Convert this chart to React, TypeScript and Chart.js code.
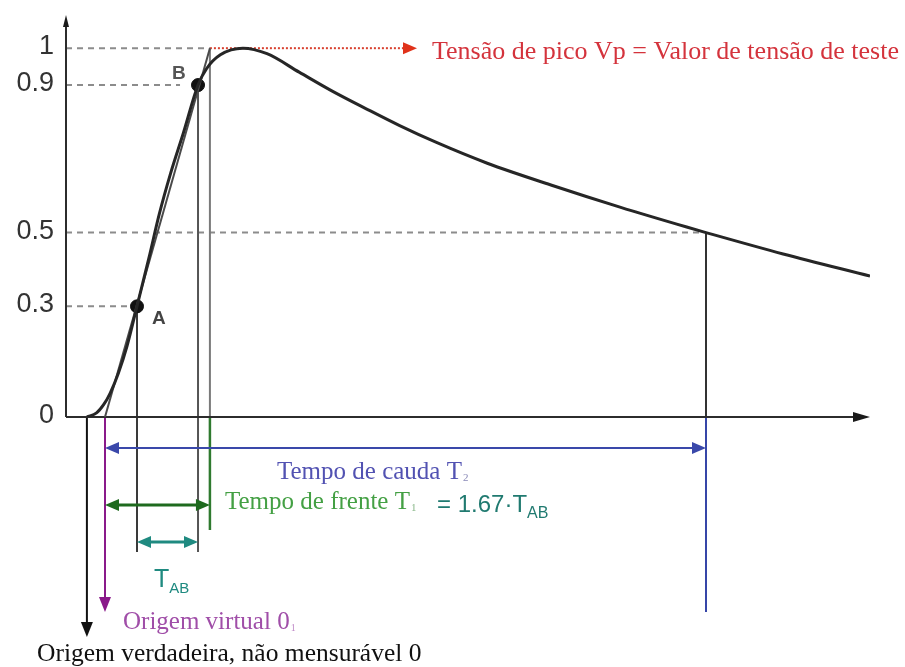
import { useEffect, useRef } from 'react';
import { Chart, registerables } from 'chart.js';

Chart.register(...registerables);

// ---- Data (time in arbitrary units, voltage normalised to Vp) ----
const curveTime = [2.6, 3.8, 4.7, 5.5, 6.5, 7.6, 8.83, 10.3, 11.6, 13.0, 14.6, 16.42, 17.5, 19.2, 22.0, 25.0, 29.0, 33.0, 37.4, 41.5, 46.0, 52.4, 60.6, 68.9, 77.2, 79.6, 89.2, 100];
const curveVoltage = [0, 0.011, 0.034, 0.065, 0.118, 0.193, 0.30, 0.43, 0.55, 0.66, 0.77, 0.90, 0.945, 0.982, 1.0, 0.985, 0.935, 0.885, 0.835, 0.79, 0.745, 0.688, 0.627, 0.569, 0.515, 0.50, 0.442, 0.382];

const yTickValues = [0, 0.3, 0.5, 0.9, 1];
const yTickLabels = ['0', '0.3', '0.5', '0.9', '1'];

const trueOrigin = 2.6;
const virtualOrigin = 4.85;
const timeA = 8.83;
const timeB = 16.42;
const frontTime = 17.9;
const tailTime = 79.6;
const levelA = 0.3;
const levelB = 0.9;
const levelTail = 0.5;
const peakLevel = 1;

const pointLabels = ['A', 'B'];

const SERIF = '"Liberation Serif", "Times New Roman", serif';
const SANS = '"Liberation Sans", Arial, sans-serif';

function line(ctx: CanvasRenderingContext2D, x1: number, y1: number, x2: number, y2: number) {
  ctx.beginPath();
  ctx.moveTo(x1, y1);
  ctx.lineTo(x2, y2);
  ctx.stroke();
}

function arrowHead(ctx: CanvasRenderingContext2D, tipX: number, tipY: number, dx: number, dy: number, len: number, halfW: number, color: string) {
  const bx = tipX - dx * len;
  const by = tipY - dy * len;
  const nx = -dy;
  const ny = dx;
  ctx.save();
  ctx.setLineDash([]);
  ctx.fillStyle = color;
  ctx.beginPath();
  ctx.moveTo(tipX, tipY);
  ctx.lineTo(bx + nx * halfW, by + ny * halfW);
  ctx.lineTo(bx - nx * halfW, by - ny * halfW);
  ctx.closePath();
  ctx.fill();
  ctx.restore();
}

function doubleArrow(ctx: CanvasRenderingContext2D, x1: number, x2: number, y: number, color: string, width: number) {
  ctx.save();
  ctx.setLineDash([]);
  ctx.strokeStyle = color;
  ctx.lineWidth = width;
  line(ctx, x1 + 8, y, x2 - 8, y);
  arrowHead(ctx, x1, y, -1, 0, 14, 6, color);
  arrowHead(ctx, x2, y, 1, 0, 14, 6, color);
  ctx.restore();
}

function text(ctx: CanvasRenderingContext2D, s: string, x: number, y: number, font: string, color: string, align: CanvasTextAlign = 'left') {
  ctx.font = font;
  ctx.fillStyle = color;
  ctx.textAlign = align;
  ctx.textBaseline = 'alphabetic';
  ctx.fillText(s, x, y);
  return ctx.measureText(s).width;
}

const annotationPlugin = {
  id: 'impulseAnnotations',
  beforeDatasetsDraw(chart: any) {
    const { ctx } = chart;
    const xs = chart.scales.x;
    const ys = chart.scales.y;
    const X = (v: number) => xs.getPixelForValue(v);
    const Y = (v: number) => ys.getPixelForValue(v);
    const y0 = Y(0);
    const left = chart.chartArea.left;
    ctx.save();

    // dashed reference levels
    ctx.setLineDash([6, 5]);
    ctx.strokeStyle = '#8c8c8c';
    ctx.lineWidth = 2;
    line(ctx, left, Y(peakLevel), X(frontTime), Y(peakLevel));
    line(ctx, left, Y(levelB), X(timeB) - 18, Y(levelB));
    line(ctx, left, Y(levelA), X(timeA) - 8, Y(levelA));
    line(ctx, left, Y(levelTail), X(tailTime) - 6, Y(levelTail));

    // red dotted line to peak label
    ctx.setLineDash([2, 2]);
    ctx.strokeStyle = '#d8402e';
    line(ctx, X(frontTime), Y(peakLevel), 404, Y(peakLevel));
    arrowHead(ctx, 417, Y(peakLevel), 1, 0, 14, 6, '#e0321a');

    ctx.setLineDash([]);
    // verticals inside the plot
    ctx.lineWidth = 2;
    ctx.strokeStyle = '#3a3a3a';
    line(ctx, X(timeA), Y(levelA), X(timeA), 552);
    ctx.strokeStyle = '#555';
    line(ctx, X(timeB), Y(levelB), X(timeB), 552);
    ctx.strokeStyle = '#7a7a7a';
    line(ctx, X(frontTime), Y(peakLevel), X(frontTime), y0);
    ctx.strokeStyle = '#333';
    line(ctx, X(tailTime), Y(levelTail), X(tailTime), y0);

    // below-axis verticals
    ctx.lineWidth = 2.5;
    ctx.strokeStyle = '#2f7a2f';
    line(ctx, X(frontTime), y0, X(frontTime), 530);
    ctx.lineWidth = 2;
    ctx.strokeStyle = '#3646a8';
    line(ctx, X(tailTime), y0, X(tailTime), 612);
    ctx.strokeStyle = '#111';
    line(ctx, X(trueOrigin), y0, X(trueOrigin), 624);
    arrowHead(ctx, X(trueOrigin), 637, 0, 1, 15, 6, '#111');
    ctx.strokeStyle = '#8a1a8a';
    line(ctx, X(virtualOrigin), y0, X(virtualOrigin), 600);
    arrowHead(ctx, X(virtualOrigin), 612, 0, 1, 15, 6, '#8a1a8a');

    // horizontal double arrows
    doubleArrow(ctx, X(virtualOrigin), X(tailTime), 448, '#3a48aa', 2);
    doubleArrow(ctx, X(virtualOrigin), X(frontTime), 505, '#1e6a1e', 3);
    doubleArrow(ctx, X(timeA), X(timeB), 542, '#1f8a80', 3);

    // axes
    ctx.strokeStyle = '#2c2c2c';
    ctx.lineWidth = 2;
    line(ctx, left, y0, X(100) - 10, y0);
    arrowHead(ctx, X(100), y0, 1, 0, 17, 5, '#1a1a1a');
    line(ctx, left, y0, left, chart.chartArea.top + 6);
    arrowHead(ctx, left, chart.chartArea.top, 0, -1, 12, 3, '#1a1a1a');
    ctx.restore();
  },
  afterDatasetsDraw(chart: any) {
    const { ctx } = chart;
    const xs = chart.scales.x;
    const ys = chart.scales.y;
    const X = (v: number) => xs.getPixelForValue(v);
    const Y = (v: number) => ys.getPixelForValue(v);
    ctx.save();

    // y tick labels
    yTickValues.forEach((v, i) => {
      text(ctx, yTickLabels[i], 54, Y(v) + 6, `27px ${SANS}`, '#333', 'right');
    });

    // point labels
    text(ctx, pointLabels[0], X(timeA) + 15, Y(levelA) + 18, `bold 19px ${SANS}`, '#444');
    text(ctx, pointLabels[1], X(timeB) - 26, Y(levelB) - 6, `bold 19px ${SANS}`, '#555');

    // peak label
    text(ctx, 'Tensão de pico Vp = Valor de tensão de teste', 432, 59, `26px ${SERIF}`, '#d4333c');

    // tail time
    let w = text(ctx, 'Tempo de cauda T', 277, 479, `25px ${SERIF}`, '#5252b2');
    text(ctx, '2', 277 + w + 1, 481, `11px ${SERIF}`, '#8a8ab8');

    // front time
    w = text(ctx, 'Tempo de frente T', 225, 509, `25px ${SERIF}`, '#44a044');
    text(ctx, '1', 225 + w + 1, 511, `11px ${SERIF}`, '#8ab88a');
    w = text(ctx, '= 1.67·T', 437, 512, `24px ${SANS}`, '#207a70');
    text(ctx, 'AB', 437 + w, 518, `16px ${SANS}`, '#207a70');

    // T_AB
    w = text(ctx, 'T', 154, 587, `25px ${SANS}`, '#1f8a80');
    text(ctx, 'AB', 154 + w, 593, `15px ${SANS}`, '#1f8a80');

    // origins
    w = text(ctx, 'Origem virtual 0', 123, 629, `25px ${SERIF}`, '#a04ea8');
    text(ctx, '1', 123 + w + 1, 631, `10px ${SERIF}`, '#c08ac8');
    text(ctx, 'Origem verdadeira, não mensurável 0', 37, 661, `25.5px ${SERIF}`, '#111');

    ctx.restore();
  },
};

export default function App() {
  const ref = useRef<HTMLCanvasElement | null>(null);
  useEffect(() => {
    if (!ref.current) return;
    const chart = new Chart(ref.current, {
      type: 'line',
      data: {
        datasets: [
          {
            label: 'Impulso',
            data: curveTime.map((t, i) => ({ x: t, y: curveVoltage[i] })),
            borderColor: '#262626',
            borderWidth: 3,
            pointRadius: 0,
            cubicInterpolationMode: 'monotone',
            fill: false,
          },
          {
            label: 'Frente virtual',
            data: [
              { x: virtualOrigin, y: 0 },
              { x: frontTime, y: peakLevel },
            ],
            borderColor: '#4a4a4a',
            borderWidth: 2,
            pointRadius: 0,
            tension: 0,
            fill: false,
          },
          {
            label: 'A, B',
            data: [
              { x: timeA, y: levelA },
              { x: timeB, y: levelB },
            ],
            showLine: false,
            pointRadius: 6.5,
            pointBackgroundColor: '#111',
            pointBorderColor: '#111',
          },
        ],
      },
      options: {
        responsive: false,
        animation: false,
        events: [],
        layout: { padding: { left: 66, right: 35, top: 15, bottom: 250 } },
        plugins: { legend: { display: false }, tooltip: { enabled: false } },
        scales: {
          x: { type: 'linear', min: 0, max: 100, display: false },
          y: { type: 'linear', min: 0, max: 1.09, display: false },
        },
      },
      plugins: [annotationPlugin],
    });
    return () => chart.destroy();
  }, []);
  return (
    <div style={{ position: 'absolute', left: 0, top: 0, width: 905, height: 667, background: '#fff' }}>
      <canvas ref={ref} width={905} height={667} />
    </div>
  );
}
